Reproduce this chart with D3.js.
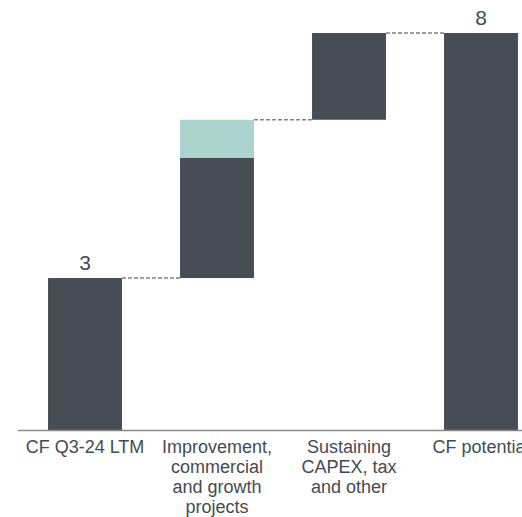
<!DOCTYPE html>
<html>
<head>
<meta charset="utf-8">
<script src="https://cdn.jsdelivr.net/npm/d3@7"></script>
<style>
  html, body { margin: 0; padding: 0; background: #ffffff; }
  svg { display: block; }
</style>
</head>
<body>
<svg id="chart" width="522" height="517"></svg>
<script>
// Cash-flow bridge: categories and their segment values
const categories = [
  "CF Q3-24 LTM",
  "Improvement, commercial and growth projects",
  "Sustaining CAPEX, tax and other",
  "CF potential"
];
const categoryLines = [
  ["CF Q3-24 LTM"],
  ["Improvement,", "commercial", "and growth", "projects"],
  ["Sustaining", "CAPEX, tax", "and other"],
  ["CF potential"]
];
const barKinds = ["total", "step", "step", "total"];
const coreValues = [3.1, 2.45, 1.77, 8.1];   // dark segment
const extraValues = [0, 0.78, 0, 0];          // light segment stacked on top
const labelFormat = d3.format(".0f");

const width = 522, height = 517;
const svg = d3.select("#chart");

const x = d3.scaleBand()
  .domain(categories)
  .range([19, 547])
  .paddingInner(0.44)
  .paddingOuter(0.22);

const y = d3.scaleLinear()
  .domain([0, 8.1])
  .range([430, 33]);

// Compute stacked positions for each bar
let running = 0;
const bars = categories.map((c, i) => {
  let base;
  if (barKinds[i] === "total") {
    base = 0;
    running = coreValues[i];
  } else {
    base = running;
    running = base + coreValues[i] + extraValues[i];
  }
  return {
    cat: c,
    base: base,
    coreTop: base + coreValues[i],
    top: base + coreValues[i] + extraValues[i],
    kind: barKinds[i],
    value: coreValues[i] + extraValues[i]
  };
});

const dark = "#464d55";
const light = "#abd4cf";
const textColor = "#454b51";
const fontFamily = "'Liberation Sans', Arial, Helvetica, sans-serif";

// Dashed connectors between consecutive bars
svg.append("g").selectAll("line")
  .data(bars.slice(0, -1))
  .join("line")
  .attr("x1", (d) => x(d.cat) + x.bandwidth())
  .attr("x2", (d, i) => x(bars[i + 1].cat))
  .attr("y1", (d) => y(d.top))
  .attr("y2", (d) => y(d.top))
  .attr("stroke", "#808080")
  .attr("stroke-width", 1.4)
  .attr("stroke-dasharray", "4,2");

// Dark segments
svg.append("g").selectAll("rect")
  .data(bars)
  .join("rect")
  .attr("x", (d) => x(d.cat))
  .attr("width", x.bandwidth())
  .attr("y", (d) => y(d.coreTop))
  .attr("height", (d) => y(d.base) - y(d.coreTop))
  .attr("fill", dark);

// Light segments
svg.append("g").selectAll("rect")
  .data(bars.filter((d) => d.top > d.coreTop))
  .join("rect")
  .attr("x", (d) => x(d.cat))
  .attr("width", x.bandwidth())
  .attr("y", (d) => y(d.top))
  .attr("height", (d) => y(d.coreTop) - y(d.top))
  .attr("fill", light);

// Value labels on total bars
svg.append("g").selectAll("text")
  .data(bars.filter((d) => d.kind === "total"))
  .join("text")
  .attr("x", (d) => x(d.cat) + x.bandwidth() / 2)
  .attr("y", (d) => y(d.top) - 8.5)
  .attr("text-anchor", "middle")
  .attr("font-family", fontFamily)
  .attr("font-size", 21)
  .attr("fill", textColor)
  .text((d) => labelFormat(d.value));

// Baseline axis
const xAxis = d3.axisBottom(x).tickSize(0).tickFormat("");
const axisG = svg.append("g")
  .attr("transform", `translate(0,${y(0) + 0.5})`)
  .call(xAxis);
axisG.select(".domain")
  .attr("d", `M18,0H${width}`)
  .attr("stroke", "#8a8a8a")
  .attr("stroke-width", 1.5);

// Category labels (multi-line)
const labels = svg.append("g").selectAll("text")
  .data(categories)
  .join("text")
  .attr("x", (d) => x(d) + x.bandwidth() / 2)
  .attr("y", 453)
  .attr("text-anchor", "middle")
  .attr("font-family", fontFamily)
  .attr("font-size", 18)
  .attr("fill", textColor);

labels.selectAll("tspan")
  .data((d, i) => categoryLines[i])
  .join("tspan")
  .attr("x", function () { return d3.select(this.parentNode).attr("x"); })
  .attr("dy", (d, i) => (i === 0 ? 0 : 20))
  .text((d) => d);
</script>
</body>
</html>
